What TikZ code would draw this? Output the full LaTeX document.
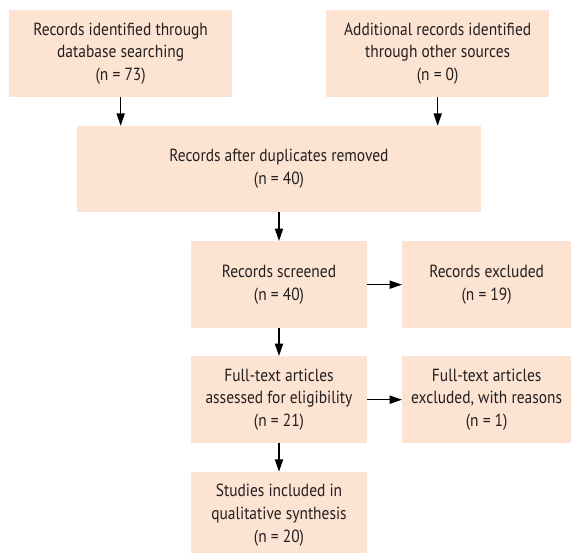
\documentclass[tikz,border=0pt]{standalone}
\usepackage{fontspec}
\setmainfont{PT Sans}[FakeStretch=0.88]
\usetikzlibrary{arrows.meta}
\definecolor{boxfill}{RGB}{253,227,210}
\definecolor{boxtext}{RGB}{35,31,32}

\begin{document}
\begin{tikzpicture}[
  box/.style={fill=boxfill, text=boxtext, align=center, inner sep=0pt,
    font=\fontsize{15}{19.4}\selectfont},
  flow/.style={-{Triangle[width=7pt,length=10.5pt]}, line width=0.95pt}
]
\useasboundingbox (0,0) rectangle (17.13,-16.56);
\node[box, minimum width=6.69cm, minimum height=2.61cm] (n1) at (3.62,-1.61) {Records identified through\\database searching\\(n = 73)};
\node[box, minimum width=6.69cm, minimum height=2.61cm] (n2) at (13.13,-1.61) {Additional records identified\\through other sources\\(n = 0)};
\node[box, minimum width=12.12cm, minimum height=2.58cm] (n3) at (8.37,-5.07) {Records after duplicates removed\\(n = 40)};
\node[box, minimum width=5.28cm, minimum height=2.61cm] (n4) at (8.37,-8.54) {Records screened\\(n = 40)};
\node[box, minimum width=5.07cm, minimum height=2.61cm] (n5) at (14.6,-8.54) {Records excluded\\(n = 19)};
\node[box, minimum width=5.28cm, minimum height=2.61cm] (n6) at (8.37,-11.99) {Full-text articles\\assessed for eligibility\\(n = 21)};
\node[box, minimum width=5.07cm, minimum height=2.61cm] (n7) at (14.6,-11.99) {Full-text articles\\excluded, with reasons\\(n = 1)};
\node[box, minimum width=5.28cm, minimum height=2.61cm] (n8) at (8.37,-15.46) {Studies included in\\qualitative synthesis\\(n = 20)};
\draw[flow] (n1.south) -- (n1.south |- n3.north);
\draw[flow] (n2.south) -- (n2.south |- n3.north);
\draw[flow] (n3) -- (n4);
\draw[flow] (n4) -- (n5);
\draw[flow] (n4) -- (n6);
\draw[flow] (n6) -- (n7);
\draw[flow] (n6) -- (n8);
\end{tikzpicture}
\end{document}
